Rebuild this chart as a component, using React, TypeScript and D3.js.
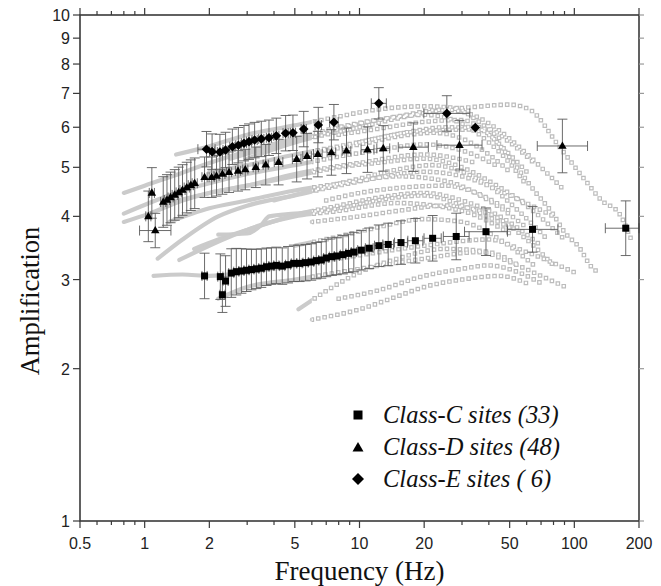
import React from 'react';
import * as d3 from 'd3';

const W = 661;
const H = 586;

// axis ticks
const xTickLabels = [0.5, 1, 2, 5, 10, 20, 50, 100, 200];
const yTickLabels = [1, 2, 3, 4, 5, 6, 7, 8, 9, 10];

// Class-C sites (squares)
const cFreq = [1.90, 2.25, 2.30, 2.38, 2.53, 2.67, 2.82, 2.98, 3.14, 3.31, 3.49, 3.69, 3.89, 4.10, 4.37, 4.65, 4.95, 5.26, 5.61, 5.96, 6.29, 6.64, 7.0, 7.44, 7.84, 8.37, 8.89, 9.41, 10.2, 11.1, 12.3, 13.6, 15.6, 18.2, 21.9, 28.2, 38.8, 63.9, 173.5];
const cAmp = [3.05, 3.04, 2.80, 2.98, 3.09, 3.11, 3.12, 3.13, 3.14, 3.15, 3.16, 3.18, 3.19, 3.20, 3.19, 3.21, 3.23, 3.23, 3.24, 3.25, 3.27, 3.28, 3.31, 3.33, 3.34, 3.36, 3.38, 3.40, 3.43, 3.46, 3.50, 3.52, 3.55, 3.58, 3.62, 3.65, 3.73, 3.77, 3.79];
const cErr = [0.045, 0.045, 0.035, 0.05, 0.048, 0.046, 0.044, 0.042, 0.04, 0.039, 0.038, 0.037, 0.036, 0.036, 0.036, 0.036, 0.036, 0.036, 0.036, 0.036, 0.036, 0.036, 0.037, 0.037, 0.037, 0.038, 0.038, 0.039, 0.039, 0.04, 0.041, 0.042, 0.043, 0.044, 0.045, 0.046, 0.047, 0.045, 0.054];
const cHErr = [0.012, 0.012, 0.012, 0.012, 0.012, 0.012, 0.012, 0.012, 0.012, 0.012, 0.012, 0.012, 0.012, 0.012, 0.012, 0.012, 0.012, 0.012, 0.012, 0.012, 0.012, 0.012, 0.012, 0.012, 0.012, 0.012, 0.012, 0.012, 0.017, 0.018, 0.02, 0.025, 0.03, 0.035, 0.04, 0.06, 0.1, 0.118, 0.095];

// Class-D sites (triangles)
const dFreq = [1.04, 1.08, 1.12, 1.22, 1.27, 1.32, 1.38, 1.44, 1.50, 1.57, 1.64, 1.71, 1.90, 2.05, 2.16, 2.30, 2.47, 2.72, 2.94, 3.29, 3.66, 4.2, 5.1, 5.7, 6.4, 7.4, 8.7, 10.9, 12.9, 17.8, 29.2, 88];
const dAmp = [4.0, 4.45, 3.75, 4.27, 4.31, 4.36, 4.41, 4.46, 4.51, 4.56, 4.61, 4.65, 4.78, 4.78, 4.81, 4.85, 4.89, 4.92, 4.95, 5.00, 5.06, 5.12, 5.19, 5.26, 5.31, 5.35, 5.39, 5.42, 5.45, 5.48, 5.53, 5.51];
const dErr = [0.05, 0.05, 0.034, 0.05, 0.05, 0.05, 0.05, 0.05, 0.05, 0.05, 0.05, 0.05, 0.04, 0.04, 0.04, 0.04, 0.04, 0.04, 0.04, 0.04, 0.04, 0.045, 0.045, 0.045, 0.045, 0.045, 0.045, 0.045, 0.045, 0.048, 0.049, 0.053];
const dHErr = [0.012, 0.012, 0.073, 0.012, 0.012, 0.012, 0.012, 0.012, 0.012, 0.012, 0.012, 0.012, 0.012, 0.012, 0.012, 0.012, 0.012, 0.012, 0.012, 0.012, 0.012, 0.02, 0.02, 0.02, 0.02, 0.02, 0.02, 0.03, 0.03, 0.07, 0.105, 0.117];

// Class-E sites (diamonds)
const eFreq = [1.94, 2.06, 2.24, 2.38, 2.56, 2.73, 2.90, 3.06, 3.25, 3.49, 3.79, 4.10, 4.53, 4.90, 5.5, 6.43, 7.6, 12.3, 25.5, 34.6];
const eAmp = [5.43, 5.37, 5.36, 5.41, 5.49, 5.53, 5.58, 5.62, 5.66, 5.69, 5.72, 5.77, 5.84, 5.85, 5.95, 6.06, 6.14, 6.69, 6.39, 5.99];
const eErr = [0.035, 0.035, 0.035, 0.035, 0.035, 0.035, 0.035, 0.035, 0.035, 0.035, 0.035, 0.035, 0.035, 0.035, 0.035, 0.035, 0.035, 0.031, 0.035, 0];
const eHErr = [0.04, 0.012, 0.012, 0.012, 0.012, 0.012, 0.012, 0.012, 0.012, 0.012, 0.012, 0.012, 0.012, 0.012, 0.012, 0.015, 0.02, 0.035, 0.107, 0];

// individual site curves (gray), [frequency, amplification]
const siteCurves: [number, number][][] = [
  [[0.8, 4.45], [1.0, 4.6], [1.5, 4.88], [2, 5.1], [3, 5.38], [5, 5.7], [8, 6.0], [12, 6.2], [20, 6.35], [30, 6.1], [40, 5.6], [50, 5.1], [60, 4.6]],
  [[1.4, 5.3], [2, 5.5], [3, 5.8], [5, 6.05], [8, 6.3], [12, 6.5], [20, 6.6], [28, 6.55], [35, 6.2], [45, 5.7]],
  [[3, 5.2], [5, 5.6], [10, 6.0], [20, 6.4], [37, 6.6], [50, 6.65], [62, 6.5], [85, 5.5], [113, 4.7], [134, 4.3], [162, 4.05], [184, 3.6]],
  [[10, 5.6], [20, 5.9], [36, 5.94], [47, 5.4], [55, 4.95], [65, 4.5], [79, 4.06], [91, 3.7], [105, 3.48], [120, 3.18], [131, 3.09]],
  [[1.1, 3.05], [1.5, 3.07], [2, 3.05], [3, 3.1], [5, 3.2], [10, 3.35], [20, 3.5], [40, 3.6], [60, 3.4], [100, 3.1]],
  [[6, 2.5], [10, 2.62], [15, 2.78], [20, 2.9], [30, 3.0], [45, 3.05], [60, 2.95]],
  [[5.2, 2.62], [7.5, 2.9], [10, 3.1], [15, 3.3], [25, 3.45], [40, 3.4], [55, 3.2]],
  [[2.2, 3.68], [3, 3.7], [3.5, 3.85], [3.8, 4.0], [5, 4.05], [8, 4.15], [12, 4.3], [20, 4.4], [30, 4.2], [50, 3.8]],
  [[1.15, 3.3], [1.5, 3.6], [2.2, 4.0], [3, 4.2], [5, 4.4], [8, 4.6], [15, 4.8], [25, 4.7], [40, 4.3], [60, 3.8]],
  [[1.7, 3.45], [2.2, 3.6], [3, 3.76], [5.3, 4.05], [8, 4.2], [12, 4.35], [20, 4.45], [30, 4.3], [45, 4.0], [70, 3.5]],
  [[1.2, 4.2], [1.6, 4.35], [2, 4.45], [3, 4.6], [5, 4.8], [8, 5.0], [12, 5.1], [20, 5.2], [30, 5.0], [40, 4.7], [60, 4.2], [90, 3.6]],
  [[1.3, 3.9], [2, 4.15], [3, 4.3], [5, 4.5], [10, 4.7], [20, 4.9], [30, 4.8], [50, 4.4], [80, 4.0]],
  [[0.8, 4.05], [1.05, 4.25], [1.5, 4.5], [2, 4.65], [3, 4.85], [5, 5.05], [8, 5.25], [12, 5.4], [20, 5.55], [30, 5.4], [45, 5.0]],
  [[0.8, 3.9], [1.05, 4.05], [1.5, 4.3], [2, 4.45], [3, 4.6], [5, 4.85], [10, 5.1], [20, 5.3], [35, 5.1]],
  [[1.45, 3.28], [2.5, 3.65], [3.5, 3.85], [5, 4.0], [8, 4.1], [15, 4.25], [30, 4.1], [50, 3.7]],
  [[2.2, 2.75], [3, 2.9], [5, 3.0], [10, 3.15], [20, 3.3], [36, 3.4], [50, 3.25], [70, 3.05], [91, 2.9]],
  [[2.5, 5.2], [4, 5.5], [6, 5.75], [10, 6.1], [15, 6.3], [25, 6.5], [35, 6.3], [45, 5.9], [55, 5.5], [70, 5.0], [90, 4.5]],
  [[2.0, 4.9], [3, 5.05], [5, 5.3], [8, 5.5], [12, 5.7], [18, 5.9], [25, 6.0], [40, 5.95], [50, 5.6], [65, 5.1]],
  [[4, 4.3], [6, 4.5], [10, 4.75], [15, 4.95], [22, 5.05], [30, 4.9], [40, 4.6], [55, 4.1], [75, 3.6]],
  [[5, 3.5], [8, 3.65], [12, 3.8], [20, 3.95], [30, 3.9], [45, 3.6], [65, 3.2]],
  [[6, 3.9], [10, 4.0], [15, 4.1], [25, 4.2], [40, 4.05], [60, 3.6], [80, 3.2]],
  [[8, 5.8], [12, 5.95], [20, 6.15], [30, 6.2], [40, 5.8], [50, 5.3], [60, 4.9]],
  [[8, 2.75], [12, 2.85], [20, 3.05], [30, 3.15], [40, 3.2], [55, 3.1], [70, 2.95]],
  [[7, 4.3], [10, 4.45], [15, 4.55], [25, 4.6], [35, 4.45], [50, 4.1]],
  [[6, 5.35], [10, 5.55], [15, 5.75], [22, 5.85], [30, 5.7], [40, 5.3], [50, 4.9]],
];

const legendLabels = ['Class-C sites (33)', 'Class-D sites (48)', 'Class-E sites ( 6)'];

const L = 80, R = 639, T = 15, B = 521;
const x = d3.scaleLog().domain([0.5, 200]).range([L, R]);
const y = d3.scaleLog().domain([1, 10]).range([B, T]);
const SPLIT_F = 6;

const sans = '"Liberation Sans", Arial, Helvetica, sans-serif';
const serif = '"Liberation Serif", "Times New Roman", Times, serif';

function ErrorBars({ f, a, e, h }: { f: number[]; a: number[]; e: number[]; h: number[] }) {
  const color = '#5a5a5a';
  const cap = 5;
  return (
    <g stroke={color} strokeWidth={0.9} fill="none">
      {f.map((fv, i) => {
        const cx = x(fv);
        const cy = y(a[i]);
        const parts: React.ReactNode[] = [];
        if (e[i] > 0) {
          const y1 = y(a[i] * Math.pow(10, e[i]));
          const y2 = y(a[i] / Math.pow(10, e[i]));
          parts.push(<line key="v" x1={cx} x2={cx} y1={y1} y2={y2} />);
          parts.push(<line key="vt" x1={cx - cap} x2={cx + cap} y1={y1} y2={y1} />);
          parts.push(<line key="vb" x1={cx - cap} x2={cx + cap} y1={y2} y2={y2} />);
        }
        if (h[i] > 0) {
          const x1 = x(fv / Math.pow(10, h[i]));
          const x2 = Math.min(x(fv * Math.pow(10, h[i])), R);
          parts.push(<line key="h" x1={x1} x2={x2} y1={cy} y2={cy} />);
          parts.push(<line key="hl" x1={x1} x2={x1} y1={cy - cap} y2={cy + cap} />);
          parts.push(<line key="hr" x1={x2} x2={x2} y1={cy - cap} y2={cy + cap} />);
        }
        return <g key={i}>{parts}</g>;
      })}
    </g>
  );
}

const trianglePath = (s: number) => {
  const hgt = (s * Math.sqrt(3)) / 2;
  return `M0,${-hgt * 0.62}L${s / 2},${hgt * 0.38}L${-s / 2},${hgt * 0.38}Z`;
};
const diamondPath = (r: number) => `M0,${-r}L${r},0L0,${r}L${-r},0Z`;

export default function App() {
  const line = d3
    .line<[number, number]>()
    .x((d) => x(d[0]))
    .y((d) => y(d[1]))
    .curve(d3.curveMonotoneX);

  const xSplit = x(SPLIT_F);
  const xMinor = x.ticks().filter((t) => !xTickLabels.some((m) => Math.abs(m - t) < 1e-9));

  return (
    <svg
      width={W}
      height={H}
      style={{ position: 'absolute', left: 0, top: 0, background: '#fff' }}
      xmlns="http://www.w3.org/2000/svg"
    >
      <defs>
        <clipPath id="lowClip">
          <rect x={L} y={T} width={xSplit - L} height={B - T} />
        </clipPath>
        <clipPath id="highClip">
          <rect x={xSplit} y={T} width={R - xSplit} height={B - T} />
        </clipPath>
      </defs>
      <rect x={0} y={0} width={W} height={H} fill="#fff" />

      {/* gray site curves */}
      <g clipPath="url(#lowClip)" fill="none">
        {siteCurves.map((c, i) => (
          <path key={i} d={line(c) || ''} stroke="#cbcbcb" strokeWidth={4.2} strokeLinecap="round" />
        ))}
      </g>
      <g clipPath="url(#highClip)" fill="none">
        {siteCurves.map((c, i) => (
          <path key={i} d={line(c) || ''} stroke="#bcbcbc" strokeWidth={4.6} strokeDasharray="0 6.5" strokeLinecap="square" />
        ))}
        {siteCurves.map((c, i) => (
          <path key={'w' + i} d={line(c) || ''} stroke="#ffffff" strokeWidth={2.2} strokeDasharray="0 6.5" strokeLinecap="square" />
        ))}
      </g>

      {/* error bars */}
      <ErrorBars f={cFreq} a={cAmp} e={cErr} h={cHErr} />
      <ErrorBars f={dFreq} a={dAmp} e={dErr} h={dHErr} />
      <ErrorBars f={eFreq} a={eAmp} e={eErr} h={eHErr} />

      {/* markers */}
      <g fill="#000">
        {cFreq.map((f, i) => (
          <rect key={i} x={x(f) - 3.5} y={y(cAmp[i]) - 3.5} width={7} height={7} />
        ))}
        {dFreq.map((f, i) => (
          <path key={i} d={trianglePath(8.5)} transform={`translate(${x(f)},${y(dAmp[i])})`} />
        ))}
        {eFreq.map((f, i) => (
          <path key={i} d={diamondPath(4.8)} transform={`translate(${x(f)},${y(eAmp[i])})`} />
        ))}
      </g>

      {/* frame */}
      <rect x={L} y={T} width={R - L} height={B - T} fill="none" stroke="#3a3a3a" strokeWidth={1.6} />

      {/* bottom & top ticks */}
      <g stroke="#3a3a3a" strokeWidth={1.2}>
        {xTickLabels.map((t) => (
          <g key={t}>
            <line x1={x(t)} x2={x(t)} y1={B} y2={B + 7} />
            <line x1={x(t)} x2={x(t)} y1={T} y2={T - 7} />
          </g>
        ))}
        {xMinor.map((t) => (
          <g key={t}>
            <line x1={x(t)} x2={x(t)} y1={B} y2={B + 4} />
            <line x1={x(t)} x2={x(t)} y1={T} y2={T - 4} />
          </g>
        ))}
        {yTickLabels.map((t) => (
          <g key={t}>
            <line x1={L} x2={L - 7} y1={y(t)} y2={y(t)} />
            <line x1={R} x2={R + 5} y1={y(t)} y2={y(t)} stroke="#9a9a9a" />
          </g>
        ))}
      </g>

      {/* tick labels */}
      <g fontFamily={sans} fontSize={16} fill="#222">
        {xTickLabels.map((t) => (
          <text key={t} x={x(t)} y={B + 28} textAnchor="middle">
            {String(t)}
          </text>
        ))}
        {yTickLabels.map((t) => (
          <text key={t} x={L - 10} y={y(t) + 6} textAnchor="end">
            {String(t)}
          </text>
        ))}
      </g>

      {/* axis titles */}
      <text x={(L + R) / 2} y={580} textAnchor="middle" fontFamily={serif} fontSize={27} fill="#111">
        Frequency (Hz)
      </text>
      <text
        transform={`translate(39,301) rotate(-90)`}
        textAnchor="middle"
        fontFamily={serif}
        fontSize={26.5}
        fill="#111"
      >
        Amplification
      </text>

      {/* legend */}
      <g>
        <rect x={358 - 4.5} y={415 - 4.5} width={9} height={9} fill="#000" />
        <path d={trianglePath(11)} transform="translate(358,448)" fill="#000" />
        <path d={diamondPath(6)} transform="translate(358,479)" fill="#000" />
        {legendLabels.map((t, i) => (
          <text
            key={t}
            x={383}
            y={415 + i * 32 + 8}
            fontFamily={serif}
            fontStyle="italic"
            fontSize={24.5}
            fill="#111"
          >
            {t}
          </text>
        ))}
      </g>
    </svg>
  );
}
